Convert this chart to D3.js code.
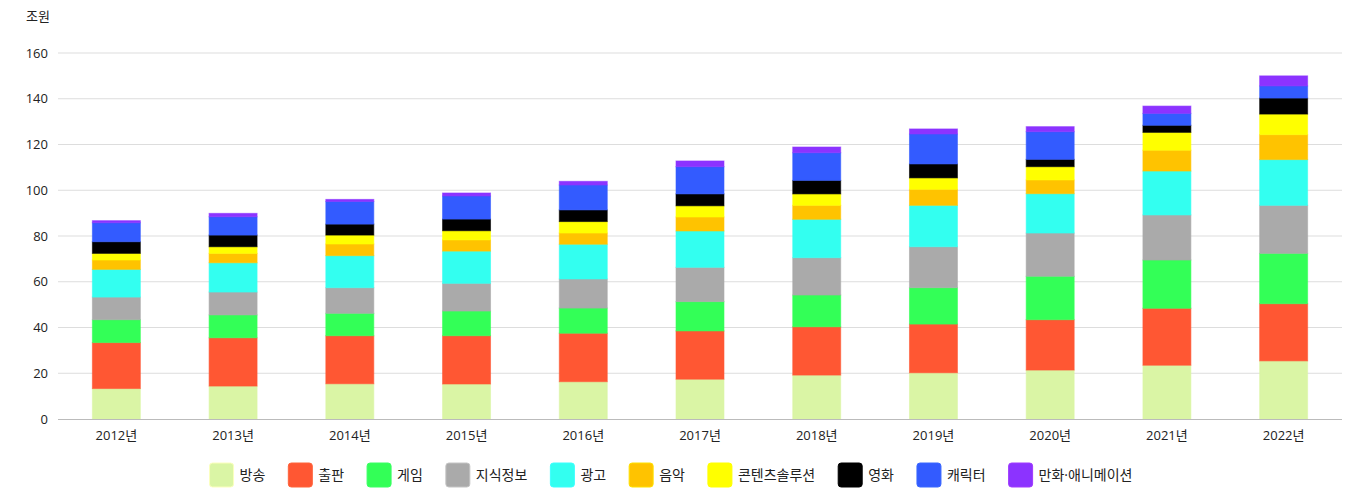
<!DOCTYPE html>
<html>
<head>
<meta charset="utf-8">
<script src="https://cdn.jsdelivr.net/npm/d3@7"></script>
<style>
  body { margin: 0; background: #fff; }
  text { font-family: "Open Sans", "Noto Sans CJK KR", sans-serif; }
</style>
</head>
<body>
<svg id="chart" width="1358" height="500"></svg>
<script>
const years = ["2012년", "2013년", "2014년", "2015년", "2016년", "2017년", "2018년", "2019년", "2020년", "2021년", "2022년"];
const seriesNames = ["방송", "출판", "게임", "지식정보", "광고", "음악", "콘텐츠솔루션", "영화", "캐릭터", "만화·애니메이션"];
const colors = ["#daf5a5", "#ff5733", "#33ff57", "#aaaaaa", "#33fff0", "#ffc300", "#ffff00", "#000000", "#335bff", "#8c33ff"];

const broadcast = [13.3, 14.4, 15.4, 15.3, 16.3, 17.4, 19.2, 20.2, 21.4, 23.5, 25.4];
const publishing = [20.1, 21.1, 21.0, 21.1, 21.2, 21.1, 21.1, 21.3, 22.0, 24.9, 25.0];
const games = [10.0, 10.0, 9.8, 10.8, 11.0, 12.8, 13.9, 15.9, 19.0, 21.1, 22.0];
const knowledge = [9.9, 10.0, 11.2, 12.1, 12.7, 15.0, 16.3, 17.9, 18.9, 19.7, 21.0];
const advertising = [12.1, 12.8, 14.0, 14.1, 15.2, 15.9, 16.8, 18.1, 17.2, 19.2, 20.0];
const music = [4.1, 4.1, 5.1, 4.9, 4.9, 6.1, 6.1, 7.0, 6.0, 9.1, 10.9];
const solutions = [2.9, 2.9, 3.9, 4.0, 5.0, 4.9, 5.0, 5.0, 5.8, 7.8, 9.0];
const film = [5.1, 5.1, 4.8, 5.1, 5.1, 5.2, 5.9, 6.1, 3.2, 3.1, 7.0];
const character = [8.3, 8.0, 9.9, 10.1, 10.9, 11.9, 12.1, 13.1, 12.1, 5.2, 5.3];
const comics = [0.9, 1.5, 0.9, 1.3, 1.6, 2.5, 2.5, 2.2, 2.2, 3.2, 4.4];
const yTicks = [0, 20, 40, 60, 80, 100, 120, 140, 160];

const allSeries = [broadcast, publishing, games, knowledge, advertising, music, solutions, film, character, comics];

const rows = years.map((y, i) => {
  const r = { year: y };
  seriesNames.forEach((s, j) => r[s] = allSeries[j][i]);
  return r;
});

const svg = d3.select("#chart");
const margin = { top: 53, left: 58, right: 16, bottom: 81 };
const W = 1358, H = 500;

const x = d3.scaleBand().domain(years).range([margin.left, W - margin.right]).paddingInner(0.589).paddingOuter(0.2945);
const y = d3.scaleLinear().domain([0, 160]).range([H - margin.bottom, margin.top]);

// grid
svg.append("g")
  .selectAll("line")
  .data(yTicks.slice(1))
  .enter()
  .append("line")
  .attr("x1", margin.left).attr("x2", W - margin.right)
  .attr("y1", d => y(d)).attr("y2", d => y(d))
  .attr("stroke", "#dddddd").attr("stroke-width", 1);

// y axis labels
const yAxis = svg.append("g")
  .attr("transform", `translate(${margin.left},0)`)
  .call(d3.axisLeft(y).tickValues(yTicks).tickSize(0).tickPadding(10));
yAxis.select(".domain").remove();
yAxis.selectAll("text").attr("font-size", 13).attr("fill", "#222");

svg.append("text")
  .attr("x", 26).attr("y", 21)
  .attr("font-size", 13).attr("fill", "#222")
  .text("조원");

const stack = d3.stack().keys(seriesNames)(rows);

svg.append("g")
  .selectAll("g")
  .data(stack)
  .enter()
  .append("g")
  .attr("fill", (d, i) => colors[i])
  .attr("stroke", (d, i) => colors[i])
  .attr("stroke-opacity", 0.6)
  .selectAll("rect")
  .data(d => d)
  .enter()
  .append("rect")
  .attr("x", d => x(d.data.year))
  .attr("width", x.bandwidth())
  .attr("y", d => y(d[1]))
  .attr("height", d => y(d[0]) - y(d[1]));

// x axis
const xAxis = svg.append("g")
  .attr("transform", `translate(0,${H - margin.bottom})`)
  .call(d3.axisBottom(x).tickSize(0).tickPadding(12));
xAxis.select(".domain").attr("stroke", "#bbbbbb").attr("d", `M${margin.left},0.5H${W - margin.right}`);
xAxis.selectAll("text").attr("font-size", 13).attr("fill", "#222");

// legend
const legend = svg.append("g");
const items = legend.selectAll("g")
  .data(seriesNames)
  .enter()
  .append("g");
items.append("rect")
  .attr("width", 24).attr("height", 24).attr("rx", 3)
  .attr("y", 463)
  .attr("fill", (d, i) => colors[i])
  .attr("stroke", (d, i) => d3.color(colors[i]).brighter(0.4))
  .attr("stroke-width", 1);
items.append("text")
  .attr("x", 30).attr("y", 480)
  .attr("font-size", 14).attr("fill", "#222")
  .text(d => d);

const gap = 23;
let offs = [];
let total = 0;
items.each(function(d) {
  const w = 30 + this.querySelector("text").getComputedTextLength();
  offs.push(total);
  total += w + gap;
});
total -= gap;
const start = (W - total) / 2 - 8;
items.attr("transform", (d, i) => `translate(${start + offs[i]},0)`);
</script>
</body>
</html>
